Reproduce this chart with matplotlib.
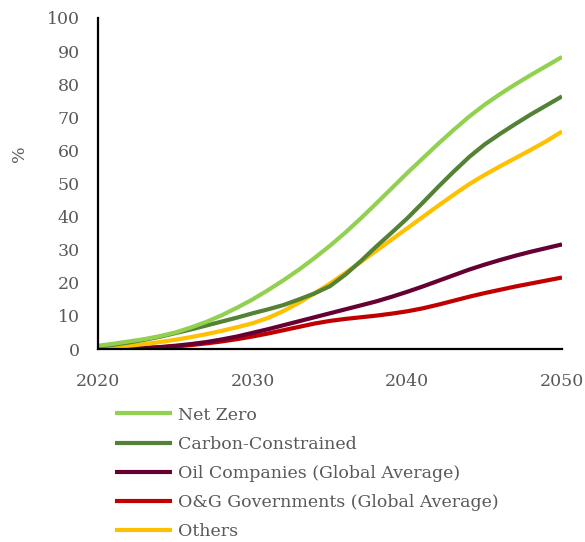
import numpy as np
import matplotlib
matplotlib.use('Agg')
import matplotlib.pyplot as plt

# Valores (% por anio)
years = np.arange(2020, 2051)

net_zero = [1.0, 1.6, 2.3, 3.0, 3.9, 5.0, 6.5, 8.2, 10.2, 12.5,
            15.0, 17.8, 20.8, 24.0, 27.5, 31.2, 35.2, 39.5, 44.0, 48.6,
            53.2, 57.6, 62.0, 66.2, 70.2, 73.8, 77.0, 80.0, 82.8, 85.5,
            88.2]
carbon = [0.8, 1.3, 2.0, 2.8, 3.7, 4.8, 5.9, 7.1, 8.3, 9.5,
          10.8, 12.0, 13.3, 15.0, 16.8, 19.0, 22.5, 26.6, 31.0, 35.2,
          39.5, 44.2, 49.0, 53.6, 58.0, 61.8, 65.0, 68.0, 70.9, 73.6,
          76.3]
oil = [0.0, 0.05, 0.15, 0.35, 0.6, 1.0, 1.5, 2.1, 2.9, 3.8,
       4.9, 6.0, 7.2, 8.4, 9.6, 10.8, 12.0, 13.2, 14.4, 15.8,
       17.3, 18.9, 20.6, 22.3, 24.0, 25.5, 26.9, 28.2, 29.4, 30.5,
       31.6]
og_gov = [0.0, 0.05, 0.1, 0.25, 0.5, 0.8, 1.2, 1.7, 2.3, 3.0,
          3.8, 4.7, 5.7, 6.7, 7.7, 8.5, 9.1, 9.6, 10.1, 10.7,
          11.4, 12.3, 13.4, 14.6, 15.8, 16.9, 17.9, 18.9, 19.8, 20.7,
          21.6]
others = [0.3, 0.6, 1.0, 1.5, 2.1, 2.8, 3.6, 4.5, 5.5, 6.6,
          7.8, 9.4, 11.5, 14.0, 16.8, 19.8, 23.0, 26.3, 29.7, 33.1,
          36.5, 39.9, 43.3, 46.6, 49.8, 52.6, 55.2, 57.7, 60.2, 62.8,
          65.7]

labels = ["Net Zero", "Carbon-Constrained", "Oil Companies (Global Average)",
          "O&G Governments (Global Average)", "Others"]
colors = ["#92D050", "#548235", "#660033", "#C00000", "#FFC000"]
x_ticks = [2020, 2030, 2040, 2050]
y_ticks = list(range(0, 101, 10))

GRIS = "#595959"
plt.rcParams['font.family'] = ['DejaVu Serif']

fig = plt.figure(figsize=(5.85, 5.42), dpi=100)
ax = fig.add_axes([0.1675, 0.356, 0.7932, 0.611])

series = [net_zero, carbon, oil, og_gov, others]
# orden de dibujo: las de abajo primero
order = [3, 2, 4, 1, 0]
lines = {}
for i in order:
    l, = ax.plot(years, series[i], color=colors[i], lw=3, label=labels[i],
                 solid_capstyle='butt')
    lines[i] = l

ax.set_xlim(2020, 2050)
ax.set_ylim(0, 100)
ax.set_xticks(x_ticks)
ax.set_yticks(y_ticks)
ax.tick_params(length=0, labelsize=12.5, labelcolor=GRIS)
ax.tick_params(axis='x', pad=17.5)
ax.tick_params(axis='y', pad=13)
for s in ['top', 'right']:
    ax.spines[s].set_visible(False)
for s in ['left', 'bottom']:
    ax.spines[s].set_linewidth(1.6)
    ax.spines[s].set_color('black')

ax.set_ylabel('%', color=GRIS, fontsize=12.5)
ax.yaxis.set_label_coords(-0.151, 0.59)

fig.legend([lines[i] for i in range(5)], labels, loc='upper left',
           bbox_to_anchor=(0.196, 0.25), frameon=False, fontsize=12.5,
           labelcolor=GRIS, handlelength=3.33, handletextpad=0.3,
           labelspacing=0.7, borderaxespad=0, borderpad=0)

fig.savefig('out.png', dpi=100)
